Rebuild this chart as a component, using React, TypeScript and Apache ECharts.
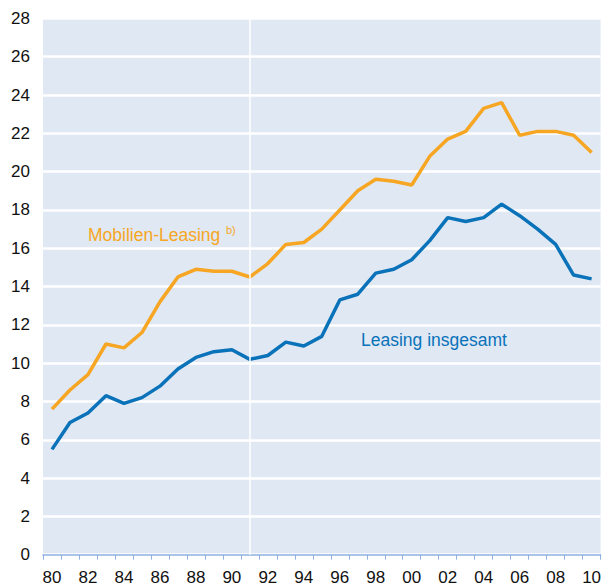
import React, { useEffect, useRef } from "react";
import * as echarts from "echarts";

const years = ["80","81","82","83","84","85","86","87","88","89","90","91","92","93","94","95","96","97","98","99","00","01","02","03","04","05","06","07","08","09","10"];
const mobilienLeasing = [7.6,8.6,9.4,11.0,10.8,11.6,13.2,14.5,14.9,14.8,14.8,14.5,15.2,16.2,16.3,17.0,18.0,19.0,19.6,19.5,19.3,20.8,21.7,22.1,23.3,23.6,21.9,22.1,22.1,21.9,21.0];
const leasingInsgesamt = [5.5,6.9,7.4,8.3,7.9,8.2,8.8,9.7,10.3,10.6,10.7,10.2,10.4,11.1,10.9,11.4,13.3,13.6,14.7,14.9,15.4,16.4,17.6,17.4,17.6,18.3,17.7,17.0,16.2,14.6,14.4];
const markYear = "91";

const ORANGE = "#f6a623";
const BLUE = "#0a72b9";
const FONT = "'Liberation Sans', Arial, sans-serif";

export default function App() {
  const ref = useRef<HTMLDivElement>(null);
  useEffect(() => {
    if (!ref.current) return;
    const chart = echarts.init(ref.current, undefined, { renderer: "svg" });
    chart.setOption({
      animation: false,
      backgroundColor: "#ffffff",
      textStyle: { fontFamily: FONT },
      grid: {
        left: 43,
        right: 0,
        top: 18.4,
        bottom: 31.3,
        show: true,
        backgroundColor: "#e0e8f4",
        borderWidth: 0,
      },
      xAxis: {
        type: "category",
        data: years,
        boundaryGap: true,
        axisLine: { show: true, lineStyle: { color: "#8eb0e2", width: 1.5 } },
        axisTick: { show: true, interval: 0, length: 5, lineStyle: { color: "#8eb0e2", width: 1 } },
        axisLabel: { interval: 1, color: "#111", fontSize: 17, fontFamily: FONT, margin: 14 },
        splitLine: { show: false },
      },
      yAxis: {
        type: "value",
        min: 0,
        max: 28,
        interval: 2,
        axisLine: { show: false },
        axisTick: { show: false },
        axisLabel: { color: "#111", fontSize: 17, fontFamily: FONT, margin: 13 },
        splitLine: { show: true, lineStyle: { color: "#ffffff", width: 2.5 } },
      },
      series: [
        {
          type: "line",
          name: "Mobilien-Leasing",
          data: mobilienLeasing,
          symbol: "none",
          lineStyle: { color: ORANGE, width: 3.5 },
          itemStyle: { color: ORANGE },
          z: 3,
          markLine: {
            silent: true,
            symbol: "none",
            label: { show: false },
            lineStyle: { color: "#ffffff", width: 1.5, type: "solid" },
            data: [{ xAxis: markYear }],
          },
        },
        {
          type: "line",
          name: "Leasing insgesamt",
          data: leasingInsgesamt,
          symbol: "none",
          lineStyle: { color: BLUE, width: 3.5 },
          itemStyle: { color: BLUE },
          z: 4,
        },
      ],
      graphic: [
        {
          type: "text",
          left: 88,
          top: 226,
          style: { text: "Mobilien-Leasing", fill: ORANGE, fontSize: 17.5, fontFamily: FONT },
        },
        {
          type: "text",
          left: 226,
          top: 224,
          style: { text: "b)", fill: ORANGE, fontSize: 11, fontFamily: FONT },
        },
        {
          type: "text",
          left: 361,
          top: 331,
          style: { text: "Leasing insgesamt", fill: BLUE, fontSize: 17.5, fontFamily: FONT },
        },
      ],
    });
    return () => chart.dispose();
  }, []);
  return (
    <div
      ref={ref}
      style={{ position: "fixed", left: 0, top: 0, width: 604, height: 586 }}
    />
  );
}
